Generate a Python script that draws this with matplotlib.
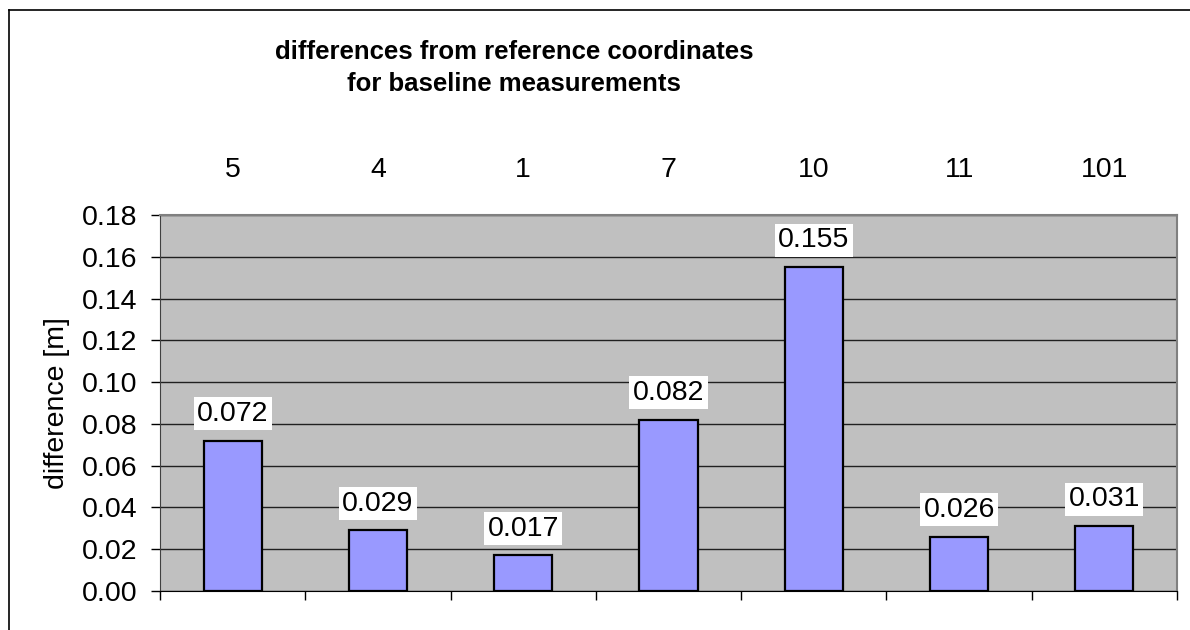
import matplotlib
matplotlib.use("Agg")
import matplotlib.pyplot as plt
from matplotlib.lines import Line2D
import numpy as np

plt.rcParams['font.family'] = ['Liberation Sans', 'DejaVu Sans']

points = ['5', '4', '1', '7', '10', '11', '101']
diffs = [0.072, 0.029, 0.017, 0.082, 0.155, 0.026, 0.031]
yticks = [0.00, 0.02, 0.04, 0.06, 0.08, 0.10, 0.12, 0.14, 0.16, 0.18]

fs = 20.5

fig = plt.figure(figsize=(11.9, 6.3), dpi=100)
ax = fig.add_axes([160 / 1190, 39 / 630, 1017 / 1190, 376 / 630])

x = np.arange(len(points))
ax.set_facecolor('#C0C0C0')
ax.bar(x, diffs, width=0.4, color='#9999FF', edgecolor='black', linewidth=1.6, zorder=3)

for xi, v in zip(x, diffs):
    ax.annotate(f'{v:.3f}', (xi, v), xytext=(0, 10), textcoords='offset points',
                ha='center', va='bottom', fontsize=fs,
                bbox=dict(facecolor='white', edgecolor='none', pad=2.5), zorder=4)

ax.set_xlim(-0.5, len(points) - 0.5)
ax.set_ylim(0, 0.18)
ax.set_yticks(yticks)
ax.set_yticklabels([f'{t:.2f}' for t in yticks], fontsize=fs)
ax.yaxis.grid(True, color='#202020', linewidth=1.0, zorder=0)
ax.set_axisbelow(True)
ax.tick_params(axis='y', direction='out', length=6.5, width=1, pad=10)

# bottom ticks between categories, no labels
ax.set_xticks(np.arange(-0.5, len(points), 1.0))
ax.set_xticklabels([])
ax.tick_params(axis='x', direction='out', length=6.5, width=1)

# category labels on top
top = ax.secondary_xaxis('top')
top.set_xticks(x)
top.set_xticklabels(points, fontsize=fs)
top.tick_params(length=0, pad=23)
top.spines['top'].set_visible(False)

for s in ['top', 'right']:
    ax.spines[s].set_color('#808080')
    ax.spines[s].set_linewidth(1.5)
ax.spines['left'].set_color('#404040')
ax.spines['bottom'].set_color('black')

ax.set_ylabel('difference [m]', fontsize=fs, labelpad=8)

fig.text(514 / 1190, 1 - 68 / 630, 'differences from reference coordinates\nfor baseline measurements',
         ha='center', va='center', fontsize=18.5, fontweight='bold', linespacing=1.45)

# outer chart frame
fx, fy = 9 / 1190, 1 - 10 / 630
fig.add_artist(Line2D([fx, fx], [0, fy], color='black', linewidth=1.2, transform=fig.transFigure))
fig.add_artist(Line2D([fx, 1], [fy, fy], color='black', linewidth=1.2, transform=fig.transFigure))

plt.savefig('out.png', dpi=100)
